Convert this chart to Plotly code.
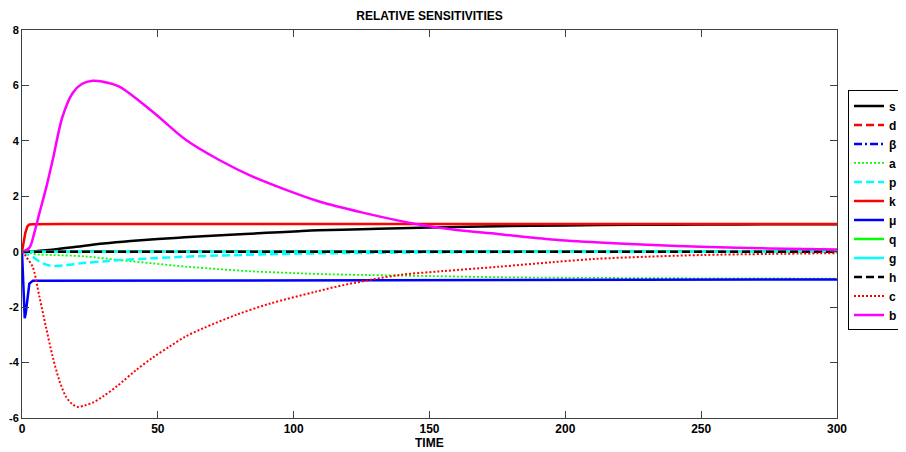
import plotly.graph_objects as go

# ---- data ----
t_s = [0, 5, 10, 20, 30, 40, 50, 60, 75, 90, 102, 109, 125, 139, 150, 175, 200, 225, 250, 275, 300]
s = [0, 0.02, 0.06, 0.18, 0.3, 0.39, 0.46, 0.52, 0.6, 0.68, 0.74, 0.77, 0.81, 0.85, 0.87, 0.92, 0.95, 0.97, 0.98, 0.99, 0.99]

t_flat = [0, 300]
d = [0, 0]
beta = [0, 0]
q = [0, 0]
g = [0, 0]
h = [0, 0]

t_a = [0, 3, 6, 11.3, 23.5, 35.8, 48, 60.4, 72.6, 84.9, 100, 108, 126.6, 151, 175.7, 200, 250, 300]
a = [0, -0.05, -0.1, -0.12, -0.17, -0.3, -0.42, -0.54, -0.63, -0.71, -0.77, -0.8, -0.84, -0.88, -0.92, -0.94, -0.96, -0.97]

t_p = [0, 1, 2, 3.9, 6, 8.5, 11.3, 15, 19, 23.5, 30, 36, 48, 60, 72.6, 90, 108, 130, 150, 175, 200, 300]
p = [0, -0.05, -0.1, -0.18, -0.33, -0.45, -0.52, -0.5, -0.45, -0.4, -0.35, -0.3, -0.24, -0.18, -0.14, -0.09, -0.06, -0.04, -0.02, -0.01, 0, 0]

t_k = [0, 0.5, 1.2, 2, 2.7, 4, 15, 300]
k = [0, 0.3, 0.67, 0.92, 0.98, 0.99, 1.0, 1.0]

t_mu = [0, 0.5, 1.0, 1.4, 2.0, 2.7, 4, 300]
mu = [0, -1.5, -2.4, -2.2, -1.6, -1.15, -1.05, -1.0]

t_c = [0, 1, 2, 3.9, 6.4, 8.8, 11.3, 13.7, 16.2, 18.5, 20.5, 23, 26, 29.7, 35, 42, 48, 54.2, 60, 66.5,
       78.8, 91, 108.2, 120, 139, 155, 175.7, 195, 211, 230, 250, 275, 300]
c = [0, -0.1, -0.25, -0.54, -1.62, -2.71, -3.79, -4.63, -5.23, -5.5, -5.6, -5.55, -5.45, -5.23, -4.85,
     -4.27, -3.83, -3.43, -3.07, -2.77, -2.28, -1.88, -1.44, -1.17, -0.84, -0.7,
     -0.54, -0.38, -0.26, -0.18, -0.12, -0.08, -0.05]

t_b = [0, 2.7, 4.5, 6.4, 9, 11.3, 14.9, 18.6, 22, 26, 30, 35.8, 48.1, 60.4, 72.6, 84.9,
       97.2, 109.4, 125, 145, 160, 175, 195, 212.5, 230, 250, 275, 300]
b = [0, 0.14, 0.67, 1.39, 2.35, 3.31, 4.87, 5.72, 6.05, 6.17, 6.13, 5.96, 5.05, 4.03, 3.31, 2.71,
     2.23, 1.81, 1.42, 1.0, 0.78, 0.64, 0.44, 0.33, 0.25, 0.18, 0.12, 0.08]

x_ticks = [0, 50, 100, 150, 200, 250, 300]
y_ticks = [-6, -4, -2, 0, 2, 4, 6, 8]
y_tick_labels = ["-6", "-4", "-2", "0", "2", "4", "6", "8"]

series = [
    ("s", t_s, s, "#000000", "solid", 2.5, "spline"),
    ("d", t_flat, d, "#FF0000", "8px,4px", 2.5, "linear"),
    ("β", t_flat, beta, "#0000FF", "8px,3px,2px,3px", 2.5, "linear"),
    ("a", t_a, a, "#00FF00", "2px,2px", 1.8, "spline"),
    ("p", t_p, p, "#00FFFF", "8px,4px", 2.5, "spline"),
    ("k", t_k, k, "#FF0000", "solid", 2.5, "linear"),
    ("μ", t_mu, mu, "#0000FF", "solid", 2.5, "linear"),
    ("q", t_flat, q, "#00FF00", "solid", 2.5, "linear"),
    ("g", t_flat, g, "#00FFFF", "solid", 2.5, "linear"),
    ("h", t_flat, h, "#000000", "8px,4px", 2.5, "linear"),
    ("c", t_c, c, "#FF0000", "2px,2px", 2, "spline"),
    ("b", t_b, b, "#FF00FF", "solid", 2.5, "spline"),
]

fig = go.Figure()
for name, tx, ty, col, dash, w, shape in series:
    line = dict(color=col, dash=dash, width=w, shape=shape)
    if shape == "spline":
        line["smoothing"] = 0.9
    fig.add_trace(go.Scatter(x=tx, y=ty, mode="lines", name=name, line=line))

fam = "Liberation Sans, Arial, sans-serif"
font = dict(family=fam, size=12, color="#000000", weight="bold")
yfont = dict(family=fam, size=11, color="#000000", weight="bold")

# page body adds an 8px offset; margins compensate so the plot area sits at x 22-837, y 30-418
fig.update_layout(
    width=906, height=452,
    paper_bgcolor="white", plot_bgcolor="white",
    margin=dict(l=14, r=77, t=22, b=42, autoexpand=False),
    font=font,
    title=dict(text="RELATIVE SENSITIVITIES", x=0.5, xref="paper", y=1 - 8 / 452,
               yanchor="middle", font=dict(size=12, family=fam, weight="bold")),
    showlegend=True,
    legend=dict(x=1.0135, xanchor="left", y=0.535, yanchor="middle",
                bordercolor="#000000", borderwidth=1, bgcolor="white",
                font=dict(size=12, family=fam, weight="bold"),
                tracegroupgap=0),
    annotations=[dict(text="TIME", x=0.5, xref="paper", y=-25 / 388, yref="paper",
                      yanchor="middle", showarrow=False,
                      font=dict(size=12, family=fam, weight="bold"))],
)
fig.update_xaxes(range=[0, 300], tickvals=x_ticks, ticks="inside", ticklen=7, tickcolor="#404040",
                 showline=True, linecolor="#404040", linewidth=1, mirror="ticks", showgrid=False,
                 zeroline=False, automargin=False, tickfont=font)
fig.update_yaxes(range=[-6, 8], tickvals=y_ticks, ticktext=y_tick_labels, ticks="inside", ticklen=7,
                 tickcolor="#404040", showline=True, linecolor="#404040", linewidth=1, mirror="ticks",
                 showgrid=False, zeroline=False, automargin=False, tickfont=yfont)

fig.write_html("out.html")
